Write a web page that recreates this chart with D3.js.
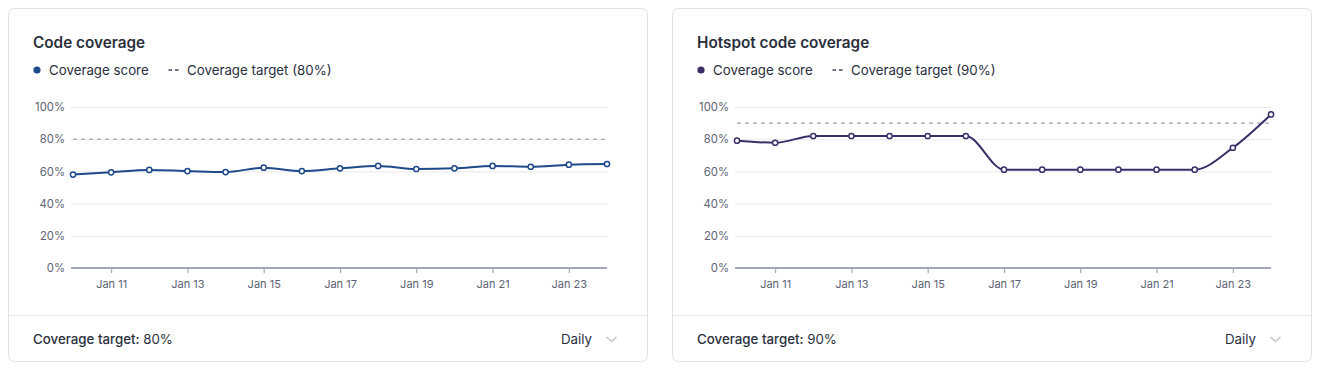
<!DOCTYPE html>
<html>
<head>
<meta charset="utf-8">
<script src="https://cdn.jsdelivr.net/npm/d3@7/dist/d3.min.js"></script>
<style>
  html, body { margin: 0; padding: 0; background: #ffffff; }
  svg { display: block; font-family: Inter, "Noto Sans", sans-serif; }
</style>
</head>
<body>
<svg id="chart" width="1320" height="369"></svg>
<script>
// ---- data ----
const dates = ["2024-01-10","2024-01-11","2024-01-12","2024-01-13","2024-01-14","2024-01-15","2024-01-16",
               "2024-01-17","2024-01-18","2024-01-19","2024-01-20","2024-01-21","2024-01-22","2024-01-23","2024-01-24"];
const codeCoverage    = [58.0, 59.4, 60.9, 60.2, 59.6, 62.3, 60.2, 61.9, 63.4, 61.5, 61.9, 63.4, 62.9, 64.2, 64.6];
const hotspotCoverage = [79.1, 77.8, 82.0, 82.0, 82.0, 82.0, 82.0, 61.1, 61.1, 61.1, 61.1, 61.1, 61.1, 74.7, 95.4];
const yTicks = [0, 20, 40, 60, 80, 100];
const xTickDates = ["2024-01-11","2024-01-13","2024-01-15","2024-01-17","2024-01-19","2024-01-21","2024-01-23"];
const titles = ["Code coverage", "Hotspot code coverage"];
const targets = [80, 90];
const seriesColors = ["#1e4a8a", "#3b2d68"];
const seriesValues = [codeCoverage, hotspotCoverage];

const parse = d3.timeParse("%Y-%m-%d");
const fmt = d3.timeFormat("%b %d");
const svg = d3.select("#chart");

const cardOffsets = [0, 664];
const textDark = "#2a2f3d";
const textGray = "#5b6173";

cardOffsets.forEach((ox, i) => {
  const g = svg.append("g").attr("transform", `translate(${ox},0)`);
  // card
  g.append("rect").attr("x", 8.5).attr("y", 8.5).attr("width", 639).attr("height", 353)
    .attr("rx", 6).attr("fill", "#fff").attr("stroke", "#dde1e8");
  g.append("line").attr("x1", 9).attr("x2", 647).attr("y1", 315.5).attr("y2", 315.5).attr("stroke", "#e6e9ee");

  // title
  g.append("text").attr("x", 33).attr("y", 47.5).text(titles[i])
    .attr("font-size", 15.3).attr("font-weight", 600).attr("fill", textDark);

  // legend
  g.append("circle").attr("cx", 37).attr("cy", 70).attr("r", 3.6).attr("fill", seriesColors[i]);
  g.append("text").attr("x", 49).attr("y", 74.5).text("Coverage score")
    .attr("font-size", 13.3).attr("fill", textDark);
  g.append("line").attr("x1", 168.5).attr("x2", 178.5).attr("y1", 70).attr("y2", 70)
    .attr("stroke", "#6f7583").attr("stroke-width", 1.8).attr("stroke-dasharray", "3.5,3");
  g.append("text").attr("x", 187).attr("y", 74.5).text(`Coverage target (${targets[i]}%)`)
    .attr("font-size", 13.3).attr("fill", textDark);

  // scales
  const x = d3.scaleTime().domain([parse(dates[0]), parse(dates[dates.length - 1])]).range([73, 607]);
  const y = d3.scaleLinear().domain([0, 100]).range([268, 107]);

  // grid
  const yAxis = d3.axisLeft(y).tickValues(yTicks).tickSize(-(607 - 71)).tickPadding(6)
    .tickFormat(d => d + "%");
  const ya = g.append("g").attr("transform", "translate(71,0)").call(yAxis);
  ya.select(".domain").remove();
  ya.selectAll(".tick line").attr("stroke", "#e7e9ee").attr("stroke-width", 1);
  ya.selectAll(".tick text").attr("font-size", 11.3).attr("fill", textGray)
    .attr("font-family", "Inter, 'Noto Sans', sans-serif").attr("x", -6);

  // x axis
  const xAxis = d3.axisBottom(x).tickValues(xTickDates.map(parse)).tickFormat(fmt)
    .tickSizeInner(5).tickSizeOuter(0).tickPadding(7);
  const xa = g.append("g").attr("transform", "translate(0,268)").call(xAxis);
  xa.select(".domain").attr("stroke", "#a3a8b6").attr("stroke-width", 2)
    .attr("d", "M71,0H607");
  xa.selectAll(".tick line").attr("stroke", "#a3a8b6").attr("stroke-width", 1.2);
  xa.selectAll(".tick text").attr("font-size", 11).attr("fill", textGray)
    .attr("font-family", "Inter, 'Noto Sans', sans-serif");

  // target line
  g.append("line").attr("x1", 73).attr("x2", 607).attr("y1", y(targets[i])).attr("y2", y(targets[i]))
    .attr("stroke", "#8b909c").attr("stroke-width", 1).attr("stroke-dasharray", "4,4");

  // series
  const data = dates.map((d, k) => ({ date: parse(d), v: seriesValues[i][k] }));
  const line = d3.line().x(d => x(d.date)).y(d => y(d.v)).curve(d3.curveMonotoneX);
  g.append("path").datum(data).attr("d", line).attr("fill", "none")
    .attr("stroke", seriesColors[i]).attr("stroke-width", 2);
  g.selectAll("circle.pt").data(data).enter().append("circle").attr("class", "pt")
    .attr("cx", d => x(d.date)).attr("cy", d => y(d.v)).attr("r", 2.6)
    .attr("fill", "#fff").attr("stroke", seriesColors[i]).attr("stroke-width", 1.5);

  // footer
  const ft = g.append("text").attr("x", 33).attr("y", 343.5).attr("font-size", 13.3).attr("fill", textDark);
  ft.append("tspan").attr("font-weight", 500).text("Coverage target: ");
  ft.append("tspan").attr("font-weight", 400).text(`${targets[i]}%`);
  g.append("text").attr("x", 592).attr("y", 343.5).attr("text-anchor", "end").text("Daily")
    .attr("font-size", 13.3).attr("fill", textDark);
  g.append("path").attr("d", "M606.5,337 L611.5,341.5 L616.5,337").attr("fill", "none")
    .attr("stroke", "#c3c7cf").attr("stroke-width", 1.6);
});
</script>
</body>
</html>
